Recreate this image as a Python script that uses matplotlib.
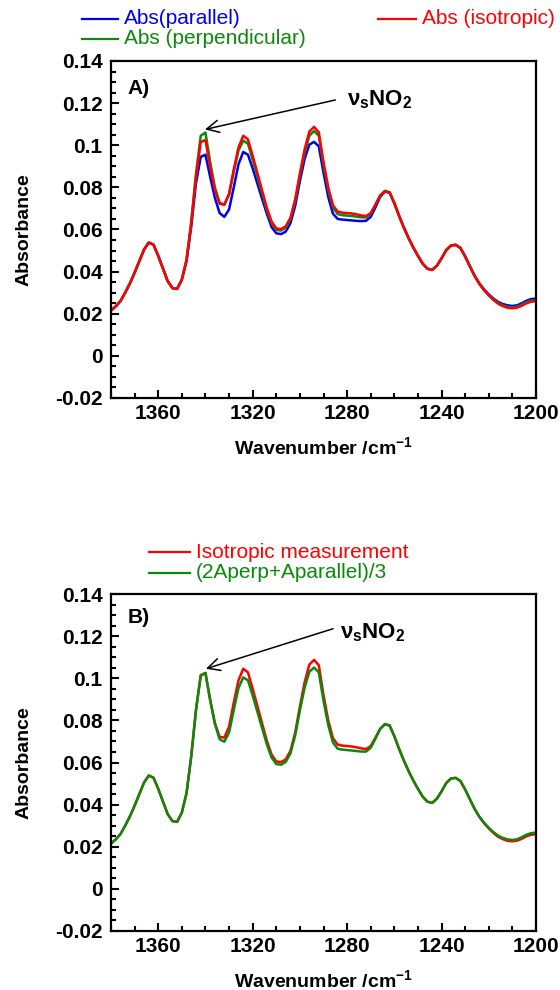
import numpy as np
import matplotlib
matplotlib.use("Agg")
import matplotlib.pyplot as plt
from matplotlib.lines import Line2D
from matplotlib.ticker import MultipleLocator, FixedLocator, FuncFormatter

plt.rcParams['font.family'] = ['Liberation Sans', 'DejaVu Sans']
plt.rcParams['axes.unicode_minus'] = False
plt.rcParams['mathtext.fontset'] = 'custom'
plt.rcParams['mathtext.rm'] = 'Liberation Sans:bold'
plt.rcParams['mathtext.it'] = 'Liberation Sans:bold'
plt.rcParams['mathtext.bf'] = 'Liberation Sans:bold'

# Wavenumber grid of the spectra (cm^-1), 2 cm^-1 steps
wavenumber = np.arange(1380, 1199, -2)

# Isotropic absorbance
abs_iso = [
    0.0215, 0.0235, 0.0260, 0.0300, 0.0344, 0.0395, 0.0450, 0.0505, 0.0538, 0.0528,
    0.0475, 0.0415, 0.0355, 0.0322, 0.0318, 0.0362, 0.0455, 0.0630, 0.0850, 0.1015,
    0.1025, 0.0897, 0.0787, 0.0722, 0.0718, 0.0770, 0.0885, 0.0990, 0.1045, 0.1028,
    0.0950, 0.0868, 0.0785, 0.0703, 0.0638, 0.0605, 0.0602, 0.0615, 0.0655, 0.0742,
    0.0866, 0.0980, 0.1065, 0.1087, 0.1062, 0.0920, 0.0800, 0.0715, 0.0685, 0.0680,
    0.0678, 0.0676, 0.0672, 0.0667, 0.0664, 0.0678, 0.0718, 0.0760, 0.0781, 0.0775,
    0.0725, 0.0665, 0.0610, 0.0560, 0.0515, 0.0475, 0.0438, 0.0414, 0.0408, 0.0428,
    0.0463, 0.0503, 0.0524, 0.0527, 0.0512, 0.0472, 0.0425, 0.0380, 0.0342, 0.0312,
    0.0287, 0.0265, 0.0247, 0.0236, 0.0228, 0.0226, 0.0229, 0.0238, 0.0250, 0.0257,
    0.0260,
]

# Absorbance with parallel polarisation
abs_par = [
    0.0215, 0.0235, 0.0260, 0.0300, 0.0344, 0.0395, 0.0450, 0.0505, 0.0538, 0.0528,
    0.0475, 0.0415, 0.0355, 0.0322, 0.0318, 0.0362, 0.0450, 0.0615, 0.0820, 0.0945,
    0.0955, 0.0850, 0.0750, 0.0678, 0.0660, 0.0695, 0.0800, 0.0910, 0.0968, 0.0955,
    0.0890, 0.0818, 0.0745, 0.0675, 0.0612, 0.0582, 0.0578, 0.0590, 0.0630, 0.0712,
    0.0830, 0.0935, 0.1003, 0.1016, 0.0995, 0.0870, 0.0755, 0.0675, 0.0650, 0.0647,
    0.0645, 0.0643, 0.0641, 0.0640, 0.0641, 0.0660, 0.0705, 0.0755, 0.0780, 0.0775,
    0.0725, 0.0665, 0.0610, 0.0560, 0.0515, 0.0475, 0.0438, 0.0414, 0.0408, 0.0428,
    0.0463, 0.0503, 0.0524, 0.0527, 0.0512, 0.0472, 0.0425, 0.0380, 0.0344, 0.0316,
    0.0292, 0.0272, 0.0256, 0.0246, 0.0240, 0.0237, 0.0240, 0.0250, 0.0262, 0.0270,
    0.0272,
]

# Absorbance with perpendicular polarisation
abs_perp = [
    0.0215, 0.0235, 0.0260, 0.0300, 0.0344, 0.0395, 0.0450, 0.0505, 0.0538, 0.0528,
    0.0475, 0.0415, 0.0355, 0.0322, 0.0318, 0.0362, 0.0458, 0.0640, 0.0865, 0.1045,
    0.1060, 0.0920, 0.0800, 0.0727, 0.0718, 0.0765, 0.0875, 0.0975, 0.1022, 0.1008,
    0.0932, 0.0852, 0.0772, 0.0692, 0.0630, 0.0598, 0.0595, 0.0609, 0.0650, 0.0735,
    0.0856, 0.0965, 0.1045, 0.1068, 0.1045, 0.0905, 0.0790, 0.0705, 0.0673, 0.0668,
    0.0666, 0.0664, 0.0661, 0.0658, 0.0657, 0.0675, 0.0717, 0.0762, 0.0784, 0.0777,
    0.0725, 0.0665, 0.0610, 0.0560, 0.0515, 0.0475, 0.0438, 0.0414, 0.0408, 0.0428,
    0.0463, 0.0503, 0.0524, 0.0527, 0.0512, 0.0472, 0.0425, 0.0380, 0.0342, 0.0313,
    0.0289, 0.0268, 0.0251, 0.0240, 0.0232, 0.0230, 0.0233, 0.0243, 0.0255, 0.0262,
    0.0265,
]

assert len(abs_iso) == len(abs_par) == len(abs_perp) == len(wavenumber)

# Isotropic spectrum reconstructed from the two polarised ones
abs_recon = (2 * np.asarray(abs_perp) + np.asarray(abs_par)) / 3

x_ticks = [1360, 1320, 1280, 1240, 1200]
y_ticks = [-0.02, 0, 0.02, 0.04, 0.06, 0.08, 0.1, 0.12, 0.14]

BLUE = '#0000F0'
GREEN = '#0A8A0A'
RED = '#FF0000'
LW = 1.8

W, H = 560, 990
fig = plt.figure(figsize=(W / 100, H / 100), dpi=100)


def px_axes(left, top, right, bottom):
    return fig.add_axes([left / W, 1 - bottom / H, (right - left) / W, (bottom - top) / H])


def style(ax, tag, label_xy):
    ax.set_xlim(1380, 1200)
    ax.set_ylim(-0.02, 0.14)
    ax.xaxis.set_major_locator(FixedLocator(x_ticks))
    ax.xaxis.set_minor_locator(MultipleLocator(10))
    ax.yaxis.set_major_locator(FixedLocator(y_ticks))
    ax.yaxis.set_minor_locator(MultipleLocator(0.005))
    ax.yaxis.set_major_formatter(FuncFormatter(lambda v, p: '%g' % round(v, 4)))
    ax.xaxis.set_major_formatter(FuncFormatter(lambda v, p: '%d' % v))
    for s in ax.spines.values():
        s.set_linewidth(1.6)
    ax.tick_params(which='both', direction='in', top=False, right=False,
                   width=1.5, labelsize=15)
    ax.tick_params(which='major', length=6)
    ax.tick_params(which='minor', length=3.5)
    ax.tick_params(axis='x', which='major', pad=4)
    ax.tick_params(axis='y', which='major', pad=6)
    for lab in ax.get_xticklabels() + ax.get_yticklabels():
        lab.set_fontweight('bold')
    ax.set_ylabel('Absorbance', fontsize=14, fontweight='bold')
    ax.set_xlabel('Wavenumber /cm$^{-1}$', fontsize=14, fontweight='bold')
    ax.yaxis.set_label_coords(-0.185, 0.5)
    ax.xaxis.set_label_coords(0.5, -0.112)
    ax.text(label_xy[0], label_xy[1], tag, fontsize=15, fontweight='bold',
            ha='left', va='center')


def nu_label(ax, head, tail, text_xy):
    ax.annotate('', xy=head, xytext=tail,
                arrowprops=dict(arrowstyle='->', color='black', lw=1.1,
                                mutation_scale=22, shrinkA=0, shrinkB=0))
    ax.text(text_xy[0], text_xy[1], r'$\nu_{s}$NO$_{2}$', fontsize=16,
            fontweight='bold', ha='left', va='center')


def legend_entry(x0, x1, y, text, color):
    fig.add_artist(Line2D([x0 / W, x1 / W], [1 - y / H, 1 - y / H],
                          color=color, lw=1.6, transform=fig.transFigure))
    fig.text((x1 + 6) / W, 1 - y / H, text, color=color, fontsize=15,
             ha='left', va='center')


# Panel A: polarised and isotropic spectra
axA = px_axes(111, 61, 536, 398)
axA.plot(wavenumber, abs_par, color=BLUE, lw=LW)
axA.plot(wavenumber, abs_perp, color=GREEN, lw=LW)
axA.plot(wavenumber, abs_iso, color=RED, lw=LW)
style(axA, 'A)', (1373, 0.127))
nu_label(axA, (1340.2, 0.1075), (1285, 0.1215), (1280, 0.1215))

legend_entry(82, 118, 19, 'Abs(parallel)', BLUE)
legend_entry(82, 118, 39, 'Abs (perpendicular)', GREEN)
legend_entry(378, 416, 19, 'Abs (isotropic)', RED)

# Panel B: isotropic measurement versus reconstruction
axB = px_axes(111, 594, 536, 931)
axB.plot(wavenumber, abs_iso, color=RED, lw=LW)
axB.plot(wavenumber, abs_recon, color=GREEN, lw=LW)
style(axB, 'B)', (1373, 0.129))
nu_label(axB, (1339.8, 0.1045), (1286, 0.1235), (1283, 0.1215))

legend_entry(149, 190, 552, 'Isotropic measurement', RED)
legend_entry(149, 190, 573, '(2Aperp+Aparallel)/3', GREEN)

fig.savefig('out.png', dpi=100)
